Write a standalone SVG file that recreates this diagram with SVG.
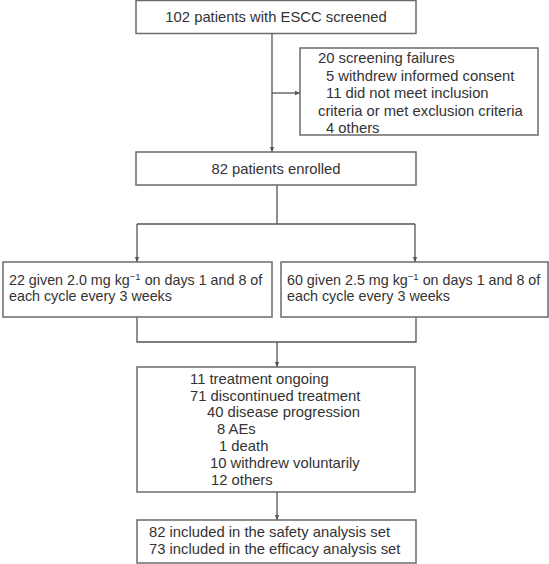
<svg xmlns="http://www.w3.org/2000/svg" width="549" height="564" viewBox="0 0 549 564">
<style>
.box{fill:#fff;stroke:#6b6b6b;stroke-width:1.5}
.ln{fill:none;stroke:#555;stroke-width:1.3}
text{font-family:"Liberation Sans",Arial,sans-serif;font-size:14.8px;fill:#333}
.c{text-anchor:middle}
.d{font-size:14.3px}
.sup{font-size:9.5px}
</style>
<defs>
<marker id="ah" viewBox="0 0 8 8" refX="7" refY="4" markerWidth="6" markerHeight="6" orient="auto" markerUnits="userSpaceOnUse">
<path d="M0,1 L7,4 L0,7 Z" fill="#555"/>
</marker>
</defs>
<rect width="549" height="564" fill="#fff"/>
<g id="connectors">
<path class="ln" d="M272,33 V152" marker-end="url(#ah)"/>
<path class="ln" d="M272,93 H300" marker-end="url(#ah)"/>
<path class="ln" d="M277,185 V224 M137,224 H415"/>
<path class="ln" d="M137,224 V262" marker-end="url(#ah)"/>
<path class="ln" d="M415,224 V262" marker-end="url(#ah)"/>
<path class="ln" d="M137,317 V342 H416 V317"/>
<path class="ln" d="M277,342 V367" marker-end="url(#ah)"/>
<path class="ln" d="M277,492 V520" marker-end="url(#ah)"/>
</g>
<g id="screened">
<rect class="box" x="136" y="0.5" width="280" height="33"/>
<text class="c" x="276" y="22">102 patients with ESCC screened</text>
</g>
<g id="failures">
<rect class="box" x="300" y="48" width="238" height="87"/>
<text x="318" y="63">20 screening failures</text>
<text x="326" y="81">5 withdrew informed consent</text>
<text x="326" y="98">11 did not meet inclusion</text>
<text x="318" y="116">criteria or met exclusion criteria</text>
<text x="326" y="133">4 others</text>
</g>
<g id="enrolled">
<rect class="box" x="136" y="152" width="280" height="33"/>
<text class="c" x="276" y="174">82 patients enrolled</text>
</g>
<g id="dose20">
<rect class="box" x="3" y="262" width="269" height="55"/>
<text class="d" x="9" y="285">22 given 2.0 mg kg<tspan class="sup" dy="-5">−1</tspan><tspan dy="5"> on days 1 and 8 of</tspan></text>
<text class="d" x="9" y="301">each cycle every 3 weeks</text>
</g>
<g id="dose25">
<rect class="box" x="281" y="262" width="267" height="55"/>
<text class="d" x="287" y="285">60 given 2.5 mg kg<tspan class="sup" dy="-5">−1</tspan><tspan dy="5"> on days 1 and 8 of</tspan></text>
<text class="d" x="287" y="301">each cycle every 3 weeks</text>
</g>
<g id="outcome">
<rect class="box" x="137" y="367" width="278" height="125"/>
<text x="190" y="384">11 treatment ongoing</text>
<text x="190" y="401">71 discontinued treatment</text>
<text x="207" y="417">40 disease progression</text>
<text x="217" y="434">8 AEs</text>
<text x="219" y="451">1 death</text>
<text x="210" y="468">10 withdrew voluntarily</text>
<text x="211" y="485">12 others</text>
</g>
<g id="analysis">
<rect class="box" x="137" y="520" width="279" height="43"/>
<text x="149" y="537">82 included in the safety analysis set</text>
<text x="149" y="554">73 included in the efficacy analysis set</text>
</g>
</svg>
